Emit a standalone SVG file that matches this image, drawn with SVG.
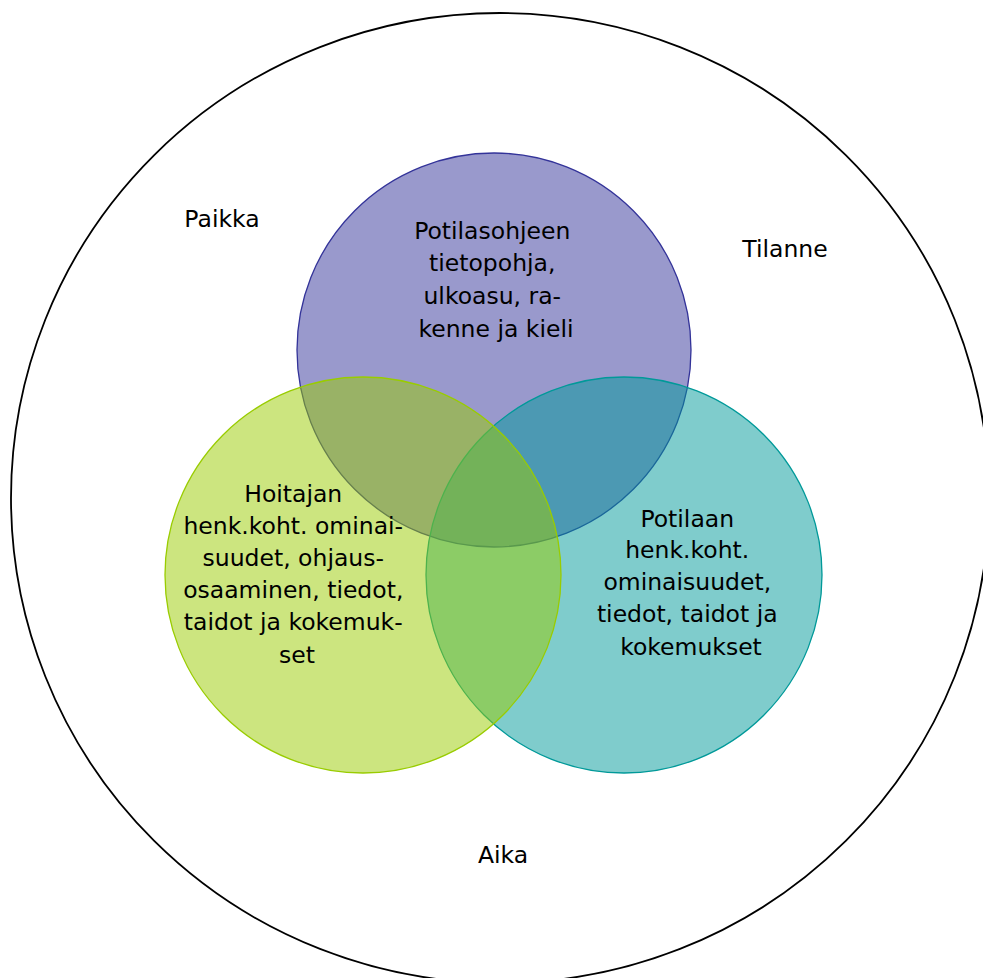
<svg xmlns="http://www.w3.org/2000/svg" width="983" height="978" viewBox="0 0 983 978">
  <style>
    .label { font-family: "DejaVu Sans", "Liberation Sans", sans-serif; font-size: 23.5px; fill: #000; text-anchor: middle; }
    .ring { fill: none; stroke: #000; stroke-width: 1.8; }
    .set { fill-opacity: 0.5; stroke-width: 1.3; }
  </style>
  <rect width="983" height="978" fill="#fff"/>

  <!-- surrounding context: place, situation, time -->
  <g id="context">
    <ellipse class="ring" cx="500" cy="498" rx="489" ry="485"/>
    <text class="label" x="222" y="227">Paikka</text>
    <text class="label" x="785" y="257">Tilanne</text>
    <text class="label" x="503" y="863">Aika</text>
  </g>

  <!-- the three overlapping sets (half-transparent fills) -->
  <g id="node-ohje">
    <circle class="set" cx="494" cy="350" r="197" fill="#333399" stroke="#333399"/>
  </g>
  <g id="node-potilas">
    <circle class="set" cx="624" cy="575" r="198" fill="#009999" stroke="#009999"/>
  </g>
  <g id="node-hoitaja">
    <circle class="set" cx="363" cy="575" r="198" fill="#99cc00" stroke="#99cc00"/>
  </g>

  <g id="labels">
    <text class="label" x="496">
      <tspan x="496" y="239">Potilasohjeen</tspan>
      <tspan x="496" y="271">tietopohja,</tspan>
      <tspan x="496" y="304">ulkoasu, ra-</tspan>
      <tspan x="496" y="337">kenne ja kieli</tspan>
    </text>
    <text class="label" x="297">
      <tspan x="297" y="502">Hoitajan</tspan>
      <tspan x="297" y="534">henk.koht. ominai-</tspan>
      <tspan x="297" y="566">suudet, ohjaus-</tspan>
      <tspan x="297" y="598">osaaminen, tiedot,</tspan>
      <tspan x="297" y="630">taidot ja kokemuk-</tspan>
      <tspan x="297" y="663">set</tspan>
    </text>
    <text class="label" x="691">
      <tspan x="691" y="527">Potilaan</tspan>
      <tspan x="691" y="558">henk.koht.</tspan>
      <tspan x="691" y="590">ominaisuudet,</tspan>
      <tspan x="691" y="622">tiedot, taidot ja</tspan>
      <tspan x="691" y="655">kokemukset</tspan>
    </text>
  </g>

  <!-- no connectors in this diagram -->
  <g id="connectors"/>
</svg>
